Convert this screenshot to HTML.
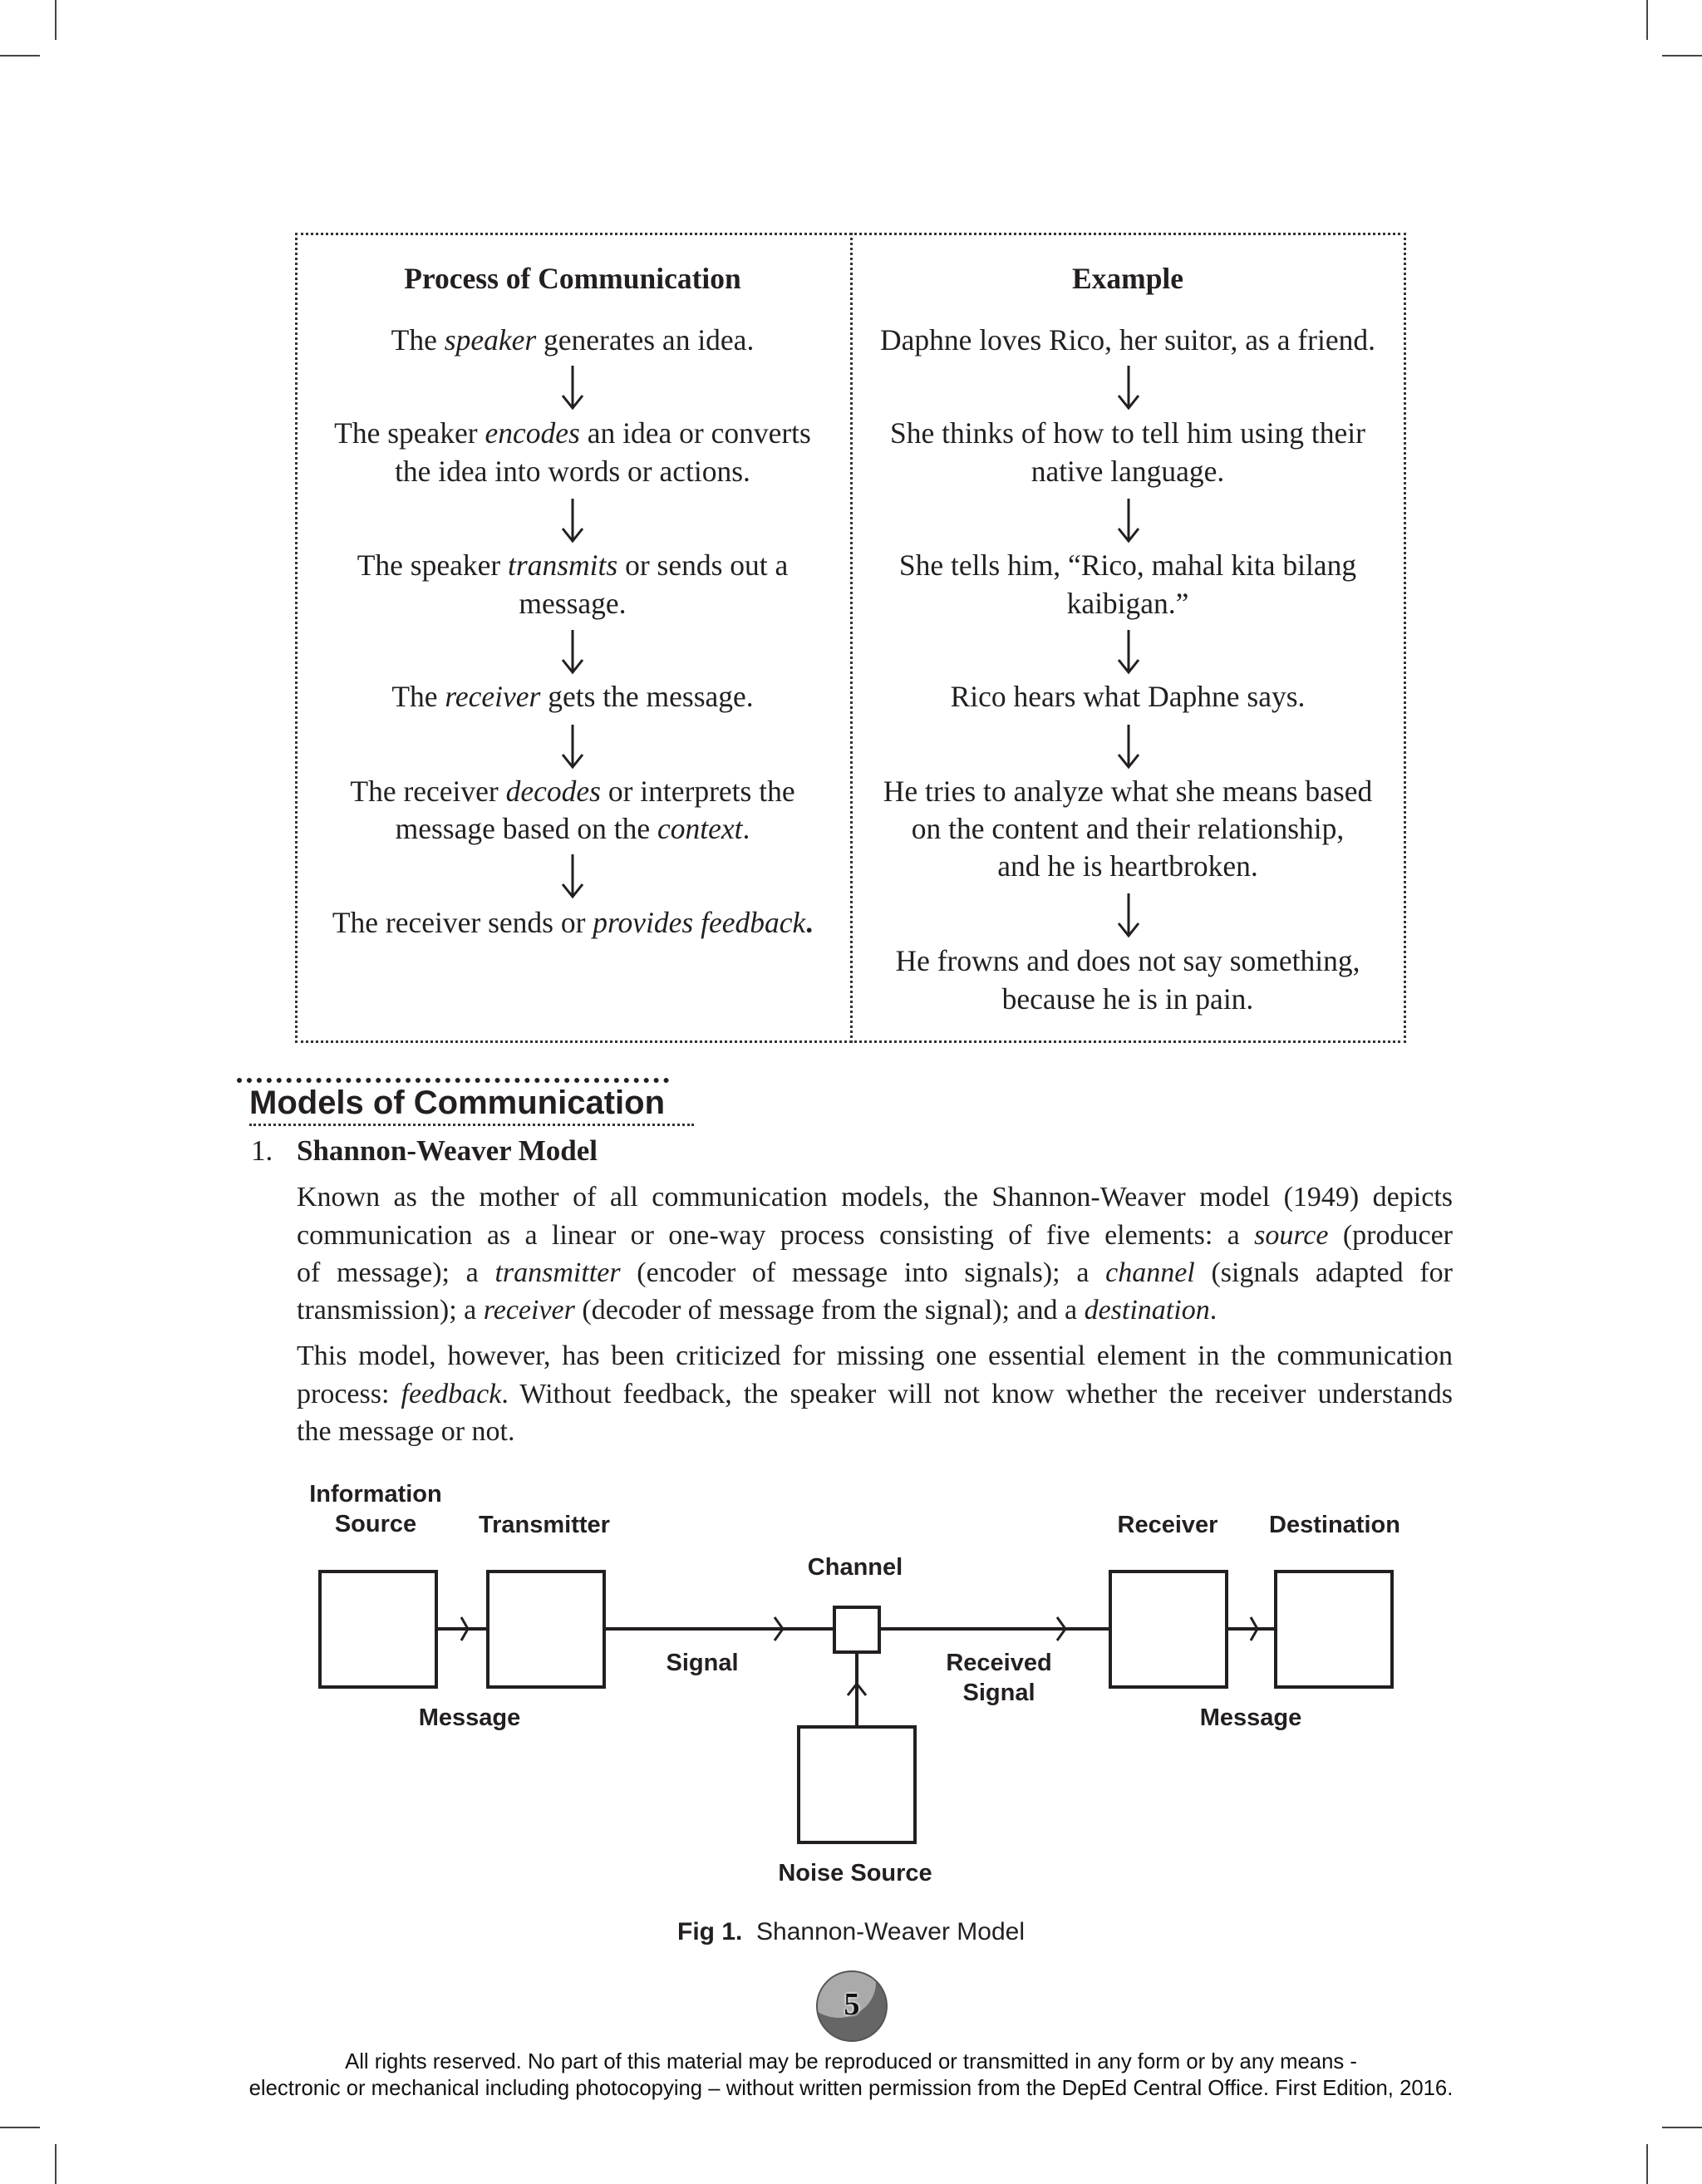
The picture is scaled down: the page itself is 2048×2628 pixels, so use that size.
<!DOCTYPE html>
<html><head><meta charset="utf-8"><style>
*{margin:0;padding:0;box-sizing:border-box}
body{width:2048px;height:2628px;background:#fff;position:relative;overflow:hidden;color:#231f20}
.a{position:absolute}
.s{font-family:"Liberation Serif",serif;font-size:35px;line-height:45px;white-space:nowrap}
.t{position:absolute;font-family:"Liberation Serif",serif;font-size:35.5px;line-height:45px;text-align:center;white-space:nowrap;width:660px}
.L{left:359px}.R{left:1027px}
.j{position:absolute;left:357px;width:1391px;font-family:"Liberation Serif",serif;font-size:34px;line-height:45px;text-align:justify;text-align-last:justify;white-space:nowrap}
.jl{text-align-last:left}
.l{position:absolute;font-family:"Liberation Sans",sans-serif;font-weight:bold;font-size:29px;line-height:36px;text-align:center;white-space:nowrap}
.cm{position:absolute;background:#444}
</style></head><body>
<div class="cm" style="left:66px;top:0;width:2px;height:48px"></div>
<div class="cm" style="left:0;top:66px;width:48px;height:2px"></div>
<div class="cm" style="left:1981px;top:0;width:2px;height:48px"></div>
<div class="cm" style="left:2000px;top:66px;width:48px;height:2px"></div>
<div class="cm" style="left:66px;top:2580px;width:2px;height:48px"></div>
<div class="cm" style="left:0;top:2559px;width:48px;height:2px"></div>
<div class="cm" style="left:1981px;top:2580px;width:2px;height:48px"></div>
<div class="cm" style="left:2000px;top:2559px;width:48px;height:2px"></div>

<div class="a" style="left:355px;top:280px;width:1337px;height:975px;border:3px dotted #333"></div>
<div class="a" style="left:1023px;top:280px;width:0;height:975px;border-left:3px dotted #333"></div>

<div class="t L" style="top:313px;font-weight:bold">Process of Communication</div>
<div class="t L" style="top:387px">The <i>speaker</i> generates an idea.</div>
<div class="t L" style="top:499px">The speaker <i>encodes</i> an idea or converts</div>
<div class="t L" style="top:545px">the idea into words or actions.</div>
<div class="t L" style="top:658px">The speaker <i>transmits</i> or sends out a</div>
<div class="t L" style="top:704px">message.</div>
<div class="t L" style="top:816px">The <i>receiver</i> gets the message.</div>
<div class="t L" style="top:930px">The receiver <i>decodes</i> or interprets the</div>
<div class="t L" style="top:975px">message based on the <i>context</i>.</div>
<div class="t L" style="top:1088px">The receiver sends or <i>provides feedback</i><b>.</b></div>

<div class="t R" style="top:313px;font-weight:bold">Example</div>
<div class="t R" style="top:387px">Daphne loves Rico, her suitor, as a friend.</div>
<div class="t R" style="top:499px">She thinks of how to tell him using their</div>
<div class="t R" style="top:545px">native language.</div>
<div class="t R" style="top:658px">She tells him, “Rico, mahal kita bilang</div>
<div class="t R" style="top:704px">kaibigan.”</div>
<div class="t R" style="top:816px">Rico hears what Daphne says.</div>
<div class="t R" style="top:930px">He tries to analyze what she means based</div>
<div class="t R" style="top:975px">on the content and their relationship,</div>
<div class="t R" style="top:1020px">and he is heartbroken.</div>
<div class="t R" style="top:1134px">He frowns and does not say something,</div>
<div class="t R" style="top:1180px">because he is in pain.</div>

<svg class="a" style="left:0;top:0" width="2048" height="2628">
<defs><g id="ar" stroke="#231f20" stroke-width="3" fill="none"><line x1="0" y1="0" x2="0" y2="50"/><polyline points="-12,36 0,51 12,36"/></g></defs>
<use href="#ar" x="689" y="440"/>
<use href="#ar" x="689" y="600"/>
<use href="#ar" x="689" y="758"/>
<use href="#ar" x="689" y="872"/>
<use href="#ar" x="689" y="1028"/>
<use href="#ar" x="1358" y="440"/>
<use href="#ar" x="1358" y="600"/>
<use href="#ar" x="1358" y="758"/>
<use href="#ar" x="1358" y="872"/>
<use href="#ar" x="1358" y="1075"/>
<g fill="#fff" stroke="#231f20" stroke-width="4">
<rect x="385" y="1891" width="140" height="139"/>
<rect x="587" y="1891" width="140" height="139"/>
<rect x="1336" y="1891" width="140" height="139"/>
<rect x="1535" y="1891" width="140" height="139"/>
<rect x="961" y="2078" width="140" height="139"/>
<rect x="1004" y="1934" width="54" height="54"/>
</g>
<g stroke="#231f20" stroke-width="4" fill="none">
<line x1="525" y1="1960" x2="587" y2="1960"/>
<line x1="727" y1="1960" x2="1004" y2="1960"/>
<line x1="1058" y1="1960" x2="1336" y2="1960"/>
<line x1="1476" y1="1960" x2="1535" y2="1960"/>
<line x1="1031" y1="1988" x2="1031" y2="2078"/>
<g stroke-width="3">
<polyline points="555,1946 563,1960 555,1974"/>
<polyline points="932,1946 942,1960 932,1974"/>
<polyline points="1272,1946 1282,1960 1272,1974"/>
<polyline points="1505,1946 1513,1960 1505,1974"/>
<polyline points="1020,2040 1031,2026 1042,2040"/>
</g>
</g>
</svg>

<div class="a" style="left:285px;top:1297px;width:520px;height:0;border-top:6px dotted #222"></div>
<div class="a" style="left:300px;top:1302px;font-family:'Liberation Sans',sans-serif;font-weight:bold;font-size:40px;line-height:50px">Models of Communication</div>
<div class="a" style="left:300px;top:1352px;width:535px;border-top:3px dotted #333"></div>
<div class="a s" style="left:302px;top:1362px">1.</div>
<div class="a s" style="left:357px;top:1362px;font-weight:bold">Shannon-Weaver Model</div>
<div class="j" style="top:1418px">Known as the mother of all communication models, the Shannon-Weaver model (1949) depicts</div>
<div class="j" style="top:1464px">communication as a linear or one-way process consisting of five elements: a <i>source</i> (producer</div>
<div class="j" style="top:1509px">of message); a <i>transmitter</i> (encoder of message into signals); a <i>channel</i> (signals adapted for</div>
<div class="j jl" style="top:1554px">transmission); a <i>receiver</i> (decoder of message from the signal); and a <i>destination</i>.</div>
<div class="j" style="top:1609px">This model, however, has been criticized for missing one essential element in the communication</div>
<div class="j" style="top:1655px">process: <i>feedback</i>. Without feedback, the speaker will not know whether the receiver understands</div>
<div class="j jl" style="top:1700px">the message or not.</div>

<div class="l" style="left:352px;top:1780px;width:200px">Information<br>Source</div>
<div class="l" style="left:555px;top:1817px;width:200px">Transmitter</div>
<div class="l" style="left:929px;top:1868px;width:200px">Channel</div>
<div class="l" style="left:1305px;top:1817px;width:200px">Receiver</div>
<div class="l" style="left:1506px;top:1817px;width:200px">Destination</div>
<div class="l" style="left:745px;top:1983px;width:200px">Signal</div>
<div class="l" style="left:1102px;top:1983px;width:200px">Received<br>Signal</div>
<div class="l" style="left:465px;top:2049px;width:200px">Message</div>
<div class="l" style="left:1405px;top:2049px;width:200px">Message</div>
<div class="l" style="left:879px;top:2236px;width:300px">Noise Source</div>
<div class="a" style="left:624px;top:2306px;width:800px;text-align:center;font-family:'Liberation Sans',sans-serif;font-size:30px;line-height:38px"><b>Fig 1.</b>&nbsp; Shannon-Weaver Model</div>

<div class="a" style="left:982px;top:2371px;width:86px;height:86px;border-radius:50%;background:#666;border:2px solid #555;overflow:hidden">
<div style="position:absolute;left:-20px;top:-30px;width:90px;height:85px;border-radius:50%;background:#aaa"></div>
</div>
<div class="a" style="left:982px;top:2390px;width:86px;text-align:center;font-family:'Liberation Serif',serif;font-weight:bold;font-size:38px;line-height:44px;color:#111;text-shadow:0 0 3px #fff,0 0 3px #fff">5</div>

<div class="a" style="left:0;top:2465px;width:2048px;text-align:center;font-family:'Liberation Sans',sans-serif;font-size:25.7px;line-height:32px;color:#111">All rights reserved. No part of this material may be reproduced or transmitted in any form or by any means -<br>electronic or mechanical including photocopying – without written permission from the DepEd Central Office. First Edition, 2016.</div>
</body></html>
